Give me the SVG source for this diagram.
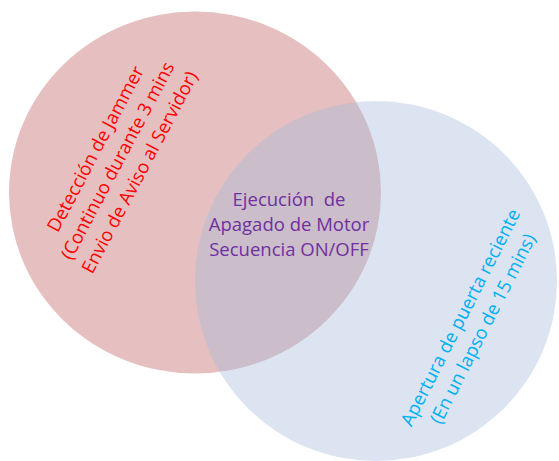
<svg xmlns="http://www.w3.org/2000/svg" width="559" height="461" viewBox="0 0 559 461">
  <style>
    text { font-family: "Open Sans", "Liberation Sans", sans-serif; font-size: 18.5px; text-anchor: middle; }
    .red { fill: #FF0000; }
    .blue { fill: #00B0F0; }
    .purple { fill: #7030A0; }
    .setA { fill: rgb(230,192,192); }
    .setB { fill: rgb(160,184,216); fill-opacity: 0.38; }
  </style>
  <rect width="559" height="461" fill="#FFFFFF"/>
  <g id="set-jammer">
    <ellipse class="setA" cx="195" cy="192.5" rx="186" ry="181"/>
  </g>
  <g id="set-puerta">
    <ellipse class="setB" cx="376" cy="281" rx="181" ry="180"/>
  </g>
  <g id="label-jammer" transform="translate(117.5,160.5) rotate(-62)">
    <text class="red" x="0" y="-18.5">Detección de Jammer</text>
    <text class="red" x="0" y="6.5">(Continuo durante 3 mins</text>
    <text class="red" x="0" y="31.5">Envio de Aviso al Servidor)</text>
  </g>
  <g id="label-puerta" transform="translate(471.5,323) rotate(-63)">
    <text class="blue" x="0" y="-6">Apertura de puerta reciente</text>
    <text class="blue" x="0" y="19">(En un lapso de 15 mins)</text>
  </g>
  <g id="label-interseccion">
    <text class="purple" x="289" y="206" xml:space="preserve">Ejecución  de</text>
    <text class="purple" x="289" y="231">Apagado de Motor</text>
    <text class="purple" x="289" y="256">Secuencia ON/OFF</text>
  </g>
</svg>
